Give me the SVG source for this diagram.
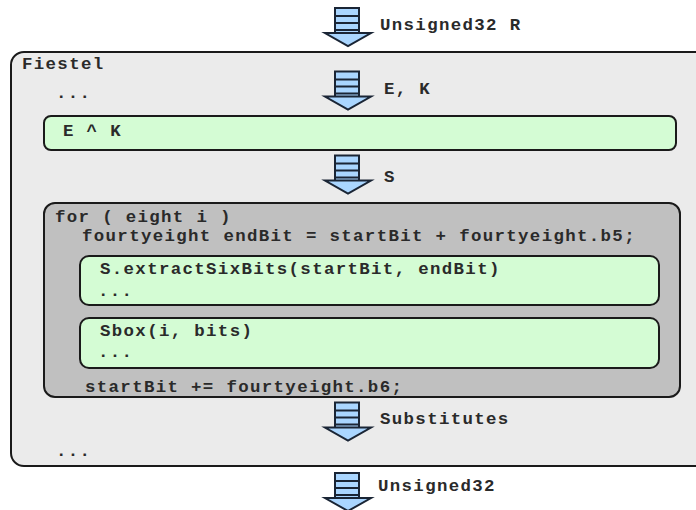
<svg xmlns="http://www.w3.org/2000/svg" xmlns:xlink="http://www.w3.org/1999/xlink" width="696" height="510" viewBox="0 0 696 510">
<style>
text{font-family:"Liberation Mono","Courier New",monospace;font-weight:bold;font-size:17.4px;letter-spacing:1.35px;fill:#2a2a2a}
.outer{fill:#ebebeb;stroke:#1a1a1a;stroke-width:2}
.green{fill:#d4fcd4;stroke:#1a1a1a;stroke-width:2}
.grey{fill:#c0c0c0;stroke:#1a1a1a;stroke-width:2}
.ab{fill:#aad6ff;stroke:#1a2535;stroke-width:2}
.al{stroke:#1a2535;stroke-width:2}
</style>
<defs>
<g id="arrow">
<rect class="ab" x="335" y="0" width="24" height="28"/>
<line class="al" x1="335" y1="8" x2="359" y2="8"/>
<line class="al" x1="335" y1="15" x2="359" y2="15"/>
<line class="al" x1="335" y1="22" x2="359" y2="22"/>
<polygon class="ab" points="325,25 371,25 348,38"/>
</g>
</defs>
<g id="fiestel">
<rect class="outer" x="11" y="52" width="700" height="414" rx="13"/>
<text x="22" y="69">Fiestel</text>
<text x="56" y="98">...</text>
<text x="56" y="456">...</text>
</g>
<g id="exk">
<rect class="green" x="44" y="116" width="632" height="34" rx="7"/>
<text x="63" y="136">E ^ K</text>
</g>
<g id="forloop">
<rect class="grey" x="44" y="203" width="636" height="194" rx="11"/>
<text x="55" y="222">for ( eight i )</text>
<text x="82" y="241">fourtyeight endBit = startBit + fourtyeight.b5;</text>
<text x="85" y="392">startBit += fourtyeight.b6;</text>
</g>
<g id="extract">
<rect class="green" x="80" y="256" width="579" height="49" rx="9"/>
<text x="100" y="274">S.extractSixBits(startBit, endBit)</text>
<text x="98" y="296">...</text>
</g>
<g id="sbox">
<rect class="green" x="80" y="318" width="579" height="50" rx="9"/>
<text x="100" y="336">Sbox(i, bits)</text>
<text x="98" y="357">...</text>
</g>
<g id="connectors">
<use xlink:href="#arrow" transform="translate(0,8)"/>
<text x="380" y="30">Unsigned32 R</text>
<use xlink:href="#arrow" transform="translate(0,71.5)"/>
<text x="384" y="94">E, K</text>
<use xlink:href="#arrow" transform="translate(0,155.5)"/>
<text x="384" y="182">S</text>
<use xlink:href="#arrow" transform="translate(0,402.5)"/>
<text x="380" y="424">Substitutes</text>
<use xlink:href="#arrow" transform="translate(0,473)"/>
<text x="378" y="491">Unsigned32</text>
</g>
</svg>
